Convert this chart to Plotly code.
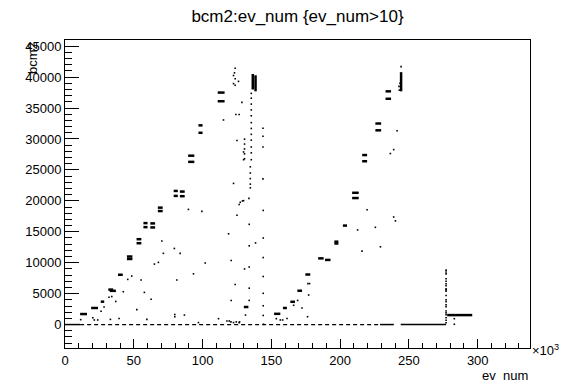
import plotly.graph_objects as go

# ---------------- data (x in events, y = bcm2) ----------------
# dense plateaus: start event (k), end event (k), bcm2 level
plat_x0 = [11, 19, 26, 31.5, 32.5, 38.5, 45, 45, 52, 52, 57, 57, 62, 62, 67.5, 67.5,
           79, 79, 83.5, 83.5, 89.5, 89.5, 97, 97, 111, 111, 130,
           152, 158.4, 163.8, 168.9, 174.7, 184, 189, 195.8, 195.8, 202,
           208.7, 208.7, 216, 216, 225.6, 225.6, 233, 233, 277.8]
plat_x1 = [16, 24, 28.5, 35, 37, 42, 49, 49, 55.5, 55.5, 60, 60, 65.5, 65.5, 71, 71,
           82, 82, 87, 87, 94, 94, 100, 100, 116, 116, 133.3,
           156.5, 161.3, 167.2, 172.3, 178.3, 188, 193, 198.7, 198.7, 205,
           213.5, 213.5, 219.6, 219.6, 229.8, 229.8, 237, 237, 296]
plat_y = [1700, 2680, 3700, 5650, 5450, 8050, 11000, 10600, 13800, 13150, 16400, 15750,
          16350, 15700, 18900, 18350, 21600, 20800, 21500, 20750, 27300, 26300,
          32200, 31000, 37500, 36100, 2840,
          1735, 2680, 3680, 5470, 8090, 10700, 10450, 13400, 13100, 16000,
          21300, 20450, 27400, 26400, 32500, 31400, 37700, 36500, 1530]

# dense vertical clusters at the ramp tops: event (k), bcm2 from, bcm2 to
vert_x = [136.5, 138.5, 244.3]
vert_y0 = [38000, 37700, 37700]
vert_y1 = [40500, 40300, 40800]

# zero baseline pieces (k): solid and sparse (dashed-looking)
base_solid_x0 = [0, 229, 244]
base_solid_x1 = [11, 239, 277]
base_sparse_x0 = [11]
base_sparse_x1 = [229]

# isolated events (k, bcm2)
pts_x = [11.4, 20.2, 21.3, 23.8, 26.2, 28.4, 33.0, 32.0, 34.0, 36.9, 39.3, 42.4, 45.6, 48.5,
         52.2, 55.3, 57.7, 59.5, 62.6, 65.0, 67.9, 70.4, 71.5, 79.5, 81.3, 83.7, 79.8, 79.8,
         86.8, 89.7, 93.4, 97.0, 99.5, 101.9, 111.6, 118.9, 119.4, 120.8, 120.8, 122.5,
         123.7, 125.0, 126.6, 126.6, 129.0, 130.5, 131.2, 133.7, 133.9, 133.9, 133.9, 133.9,
         133.9, 138.5,
         144.1, 144.1, 144.1, 144.1, 144.1, 144.1, 144.1, 144.3, 143.9, 143.9, 143.9, 143.9,
         153.6, 156.5, 158.2, 161.4, 166.2, 169.1, 172.3, 176.6, 177.8, 177.1, 176.3,
         124.5, 117.7, 120.6, 126.9, 127.4, 129.8, 122.5, 125.0,
         130.5, 130.5, 130.5, 130.5, 130.5, 129.8, 129.8,
         128.6, 124.2, 126.6, 115.2,
         123.7, 122.5, 123.7, 122.5, 123.7, 126.1, 123.2,
         135.4, 135.4, 135.4, 135.4, 135.4, 135.4, 135.4, 135.4, 135.4, 135.4, 135.4, 135.4,
         134.7, 134.7, 134.7, 134.7, 134.7,
         241.4, 238.9, 236.5, 219.6, 238.9, 240.2, 225.6, 212.7, 229.3, 215.9,
         277, 277, 277, 277, 277, 277, 277, 277, 277, 277, 277, 277, 277, 277, 277, 277,
         277, 277, 277, 277, 277, 283, 283,
         244.3, 243.5, 242.8, 243.0]
pts_y = [790, 1100, 740, 740, 2160, 2840, 840, 4420, 4530, 3740, 990, 5310, 7300, 7840,
         2410, 7210, 5200, 840, 4100, 9780, 10050, 13510, 11510, 12300, 7210, 11510, 1620, 1260,
         1530, 18610, 8200, 320, 18290, 9940, 950, 14670, 580, 10360, 3900, 320,
         6470, 17660, 320, 19400, 19980, 8990, 1530, 20390, 16200, 12730, 9300, 5880,
         3900, 13200,
         18450, 13990, 10830, 7770, 5050, 3040, 1470, 50, 31740, 30440, 28700, 23550,
         950, 740, 740, 990, 3110, 3900, 2680, 6620, 6620, 4780, 1260,
         430, 580, 430, 430, 19760, 20030, 22820, 29760,
         29970, 29180, 28390, 27600, 26810, 27900, 26650,
         35910, 33950, 33950, 33070,
         41430, 40260, 39740, 38950, 38680, 39310, 40690,
         37370, 36590, 35640, 34700, 33750, 32640, 31700, 30750, 29810, 28700, 27760, 26650,
         25500, 24500, 23600, 22700, 22100,
         31330, 28280, 27650, 18560, 17390, 16760, 15720, 15300, 12570, 11870,
         8800, 8500, 8200, 7400, 7000, 6600, 6300, 5800, 5600, 5400, 4700, 4000, 3700, 3200,
         2900, 2200, 1900, 1600, 1100, 700, 300, 950, 50,
         41700, 39000, 38500, 37900]

x_tickvals = [0, 50, 100, 150, 200, 250, 300]
x_ticktext = ["0", "50", "100", "150", "200", "250", "300"]
y_tickvals = [0, 5000, 10000, 15000, 20000, 25000, 30000, 35000, 40000, 45000]

K = 1000.0

# ---------------- build traces ----------------
def seg_xy(x0s, x1s, ys):
    xs, yy = [], []
    for a, b, c in zip(x0s, x1s, ys):
        xs += [a * K, b * K, None]
        yy += [c, c, None]
    return xs, yy

fig = go.Figure()

bx, by = seg_xy(base_solid_x0, base_solid_x1, [0] * len(base_solid_x0))
fig.add_trace(go.Scatter(x=bx, y=by, mode="lines", line=dict(color="black", width=1.5),
                         hoverinfo="skip"))
bx, by = seg_xy(base_sparse_x0, base_sparse_x1, [0] * len(base_sparse_x0))
fig.add_trace(go.Scatter(x=bx, y=by, mode="lines",
                         line=dict(color="black", width=1.3, dash="4px,3px"), hoverinfo="skip"))

px_, py_ = seg_xy(plat_x0, plat_x1, plat_y)
fig.add_trace(go.Scatter(x=px_, y=py_, mode="lines", line=dict(color="black", width=2.5),
                         hoverinfo="skip"))

vx, vy = [], []
for a, b, c in zip(vert_x, vert_y0, vert_y1):
    vx += [a * K, a * K, None]
    vy += [b, c, None]
fig.add_trace(go.Scatter(x=vx, y=vy, mode="lines", line=dict(color="black", width=2.5),
                         hoverinfo="skip"))

fig.add_trace(go.Scatter(x=[v * K for v in pts_x], y=pts_y, mode="markers",
                         marker=dict(color="black", size=1.6, symbol="square", line=dict(width=0)),
                         hoverinfo="skip"))

font = "Liberation Sans, Arial, Helvetica, sans-serif"

fig.update_layout(
    width=574, height=380,
    margin=dict(l=65, r=44, t=40, b=24),
    paper_bgcolor="white", plot_bgcolor="white",
    showlegend=False,
    font=dict(family=font, size=13, color="black"),
    title=dict(text="bcm2:ev_num {ev_num>10}", x=0.5, xref="paper", xanchor="center",
               y=1 - 16 / 380, yref="container", yanchor="middle",
               font=dict(family=font, size=17, color="black")),
    xaxis=dict(range=[0, 338000], showgrid=False, zeroline=False,
               showline=True, linecolor="black", linewidth=1, mirror=True,
               ticks="inside", ticklen=9, tickwidth=1, tickcolor="black",
               tickvals=[v * K for v in x_tickvals], ticktext=x_ticktext,
               minor=dict(ticks="inside", ticklen=5, dtick=10000, tickcolor="black",
                          tickwidth=1, showgrid=False),
               tickfont=dict(size=13)),
    yaxis=dict(range=[-3790, 46000], showgrid=False, zeroline=False,
               showline=True, linecolor="black", linewidth=1, mirror=True,
               ticks="inside", ticklen=14, tickwidth=1, tickcolor="black",
               tickvals=y_tickvals, ticktext=[str(v) for v in y_tickvals],
               minor=dict(ticks="inside", ticklen=7, dtick=1000, tickcolor="black",
                          tickwidth=1, showgrid=False),
               tickfont=dict(size=13)),
    annotations=[
        dict(text="×10<sup>3</sup>", xref="paper", yref="paper", x=1.0, y=-0.04,
             xanchor="left", yanchor="bottom", showarrow=False,
             font=dict(family=font, size=13, color="black")),
        dict(text="ev_num", xref="paper", yref="paper", x=1.0, y=-0.06,
             xanchor="right", yanchor="top", showarrow=False,
             font=dict(family=font, size=13, color="black")),
        dict(text="bcm2", xref="paper", yref="paper", x=-33 / 465, y=1.0,
             xanchor="center", yanchor="top", textangle=-90, showarrow=False,
             font=dict(family=font, size=13, color="black")),
    ],
)

fig.write_html("out.html")
